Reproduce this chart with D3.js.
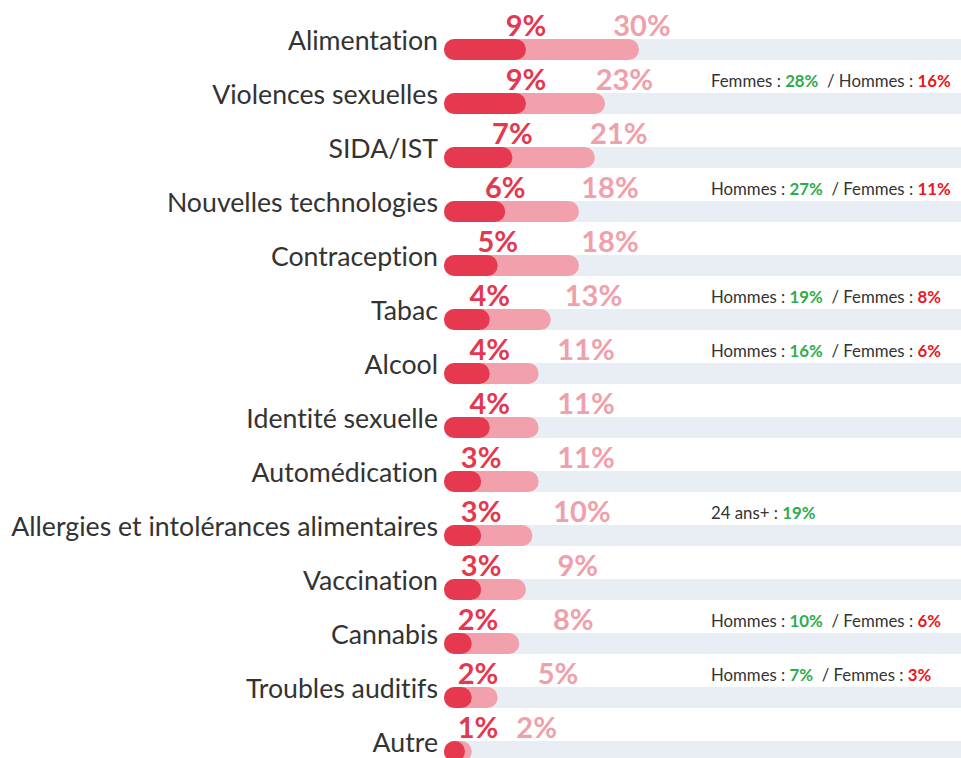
<!DOCTYPE html>
<html>
<head>
<meta charset="utf-8">
<script src="https://cdn.jsdelivr.net/npm/d3@7"></script>
<style>
  html, body { margin: 0; padding: 0; background: #ffffff; }
  svg { display: block; }
  text { font-variant-ligatures: none; font-feature-settings: "liga" 0, "clig" 0; }
</style>
</head>
<body>
<svg id="chart" width="961" height="758"></svg>
<script>
// ---- Data ----
const categories = [
  "Alimentation", "Violences sexuelles", "SIDA/IST", "Nouvelles technologies",
  "Contraception", "Tabac", "Alcool", "Identité sexuelle", "Automédication",
  "Allergies et intolérances alimentaires", "Vaccination", "Cannabis",
  "Troubles auditifs", "Autre"
];
const firstValues = [9, 9, 7, 6, 5, 4, 4, 4, 3, 3, 3, 2, 2, 1];
const totalValues = [30, 23, 21, 18, 18, 13, 11, 11, 11, 10, 9, 8, 5, 2];

const noteCategories = ["Violences sexuelles", "Nouvelles technologies", "Tabac", "Alcool",
  "Allergies et intolérances alimentaires", "Cannabis", "Troubles auditifs"];
const noteGroupA = ["Femmes", "Hommes", "Hommes", "Hommes", "24 ans+", "Hommes", "Hommes"];
const noteValueA = [28, 27, 19, 16, 19, 10, 7];
const noteGroupB = ["Hommes", "Femmes", "Femmes", "Femmes", null, "Femmes", "Femmes"];
const noteValueB = [16, 11, 8, 6, null, 6, 3];

// ---- Layout ----
const W = 961, H = 758;
const barX0 = 444;
const barH = 21;
const font = "Lato, 'Open Sans', sans-serif";
const colDark = "#e6384f", colLight = "#f2a1ac", colTrack = "#e9eef5";
const colDarkText = "#e5374e", colLightText = "#f0a0ab";
const colGreen = "#2eac4b", colRed = "#ea1620", colGray = "#333333";

const svg = d3.select("#chart");

const y = d3.scaleBand().domain(categories).range([12, 12 + 54 * categories.length]).paddingInner(0);
const x = d3.scalePow().exponent(0.72).domain([0, 30]).range([barX0, 639]);
const xLab = d3.scaleSqrt().domain([0, 30]).range([500, 642]);

const rows = categories.map((c, i) => ({ cat: c, first: firstValues[i], total: totalValues[i] }));
const barTop = d => y(d.cat) + 27;

// track
svg.append("g").selectAll("rect").data(rows).join("rect")
  .attr("x", barX0).attr("y", barTop)
  .attr("width", W - barX0 + 20).attr("height", barH)
  .attr("rx", barH / 2).attr("fill", colTrack);

// light (total) bars
svg.append("g").selectAll("rect").data(rows).join("rect")
  .attr("x", barX0).attr("y", barTop)
  .attr("width", d => Math.max(x(d.total) - barX0, barH)).attr("height", barH)
  .attr("rx", barH / 2).attr("fill", colLight);

// dark (first) bars
svg.append("g").selectAll("rect").data(rows).join("rect")
  .attr("x", barX0).attr("y", barTop)
  .attr("width", d => Math.max(x(d.first) - barX0, barH)).attr("height", barH)
  .attr("rx", barH / 2).attr("fill", colDark);

// category labels
const catLabels = svg.append("g").selectAll("text").data(rows).join("text")
  .attr("x", 438).attr("y", d => barTop(d) + 11)
  .attr("text-anchor", "end")
  .attr("font-family", font).attr("font-size", 28)
  .attr("fill", "#333333")
  .text(d => d.cat);
// fit the longest label to the available width
let maxW = 0;
catLabels.each(function () { maxW = Math.max(maxW, this.getComputedTextLength()); });
catLabels.attr("font-size", 28 * 427 / maxW);

// percentage labels
const darkCenter = d => Math.max(x(d.first), 478);
svg.append("g").selectAll("text").data(rows).join("text")
  .attr("x", darkCenter).attr("y", d => barTop(d) - 3)
  .attr("text-anchor", "middle")
  .attr("font-family", font).attr("font-weight", 700).attr("font-size", 29)
  .attr("fill", colDarkText)
  .text(d => d.first + "%");

svg.append("g").selectAll("text").data(rows).join("text")
  .attr("x", d => xLab(d.total)).attr("y", d => barTop(d) - 3)
  .attr("text-anchor", "middle")
  .attr("font-family", font).attr("font-weight", 700).attr("font-size", 29)
  .attr("fill", colLightText)
  .text(d => d.total + "%");

// annotations
const notes = noteCategories.map((c, i) => ({
  cat: c, ga: noteGroupA[i], va: noteValueA[i], gb: noteGroupB[i], vb: noteValueB[i]
}));
const noteText = svg.append("g").selectAll("text").data(notes).join("text")
  .attr("x", 711).attr("y", d => y(d.cat) + 27 - 6)
  .attr("font-family", font).attr("font-size", 16.8)
  .attr("fill", colGray);
noteText.each(function (d) {
  const t = d3.select(this);
  t.append("tspan").text(d.ga + " : ");
  t.append("tspan").attr("font-weight", 700).attr("fill", colGreen).text(d.va + "%");
  if (d.gb) {
    t.append("tspan").text("\u00a0 / " + d.gb + " : ");
    t.append("tspan").attr("font-weight", 700).attr("fill", colRed).text(d.vb + "%");
  }
});
</script>
</body>
</html>
